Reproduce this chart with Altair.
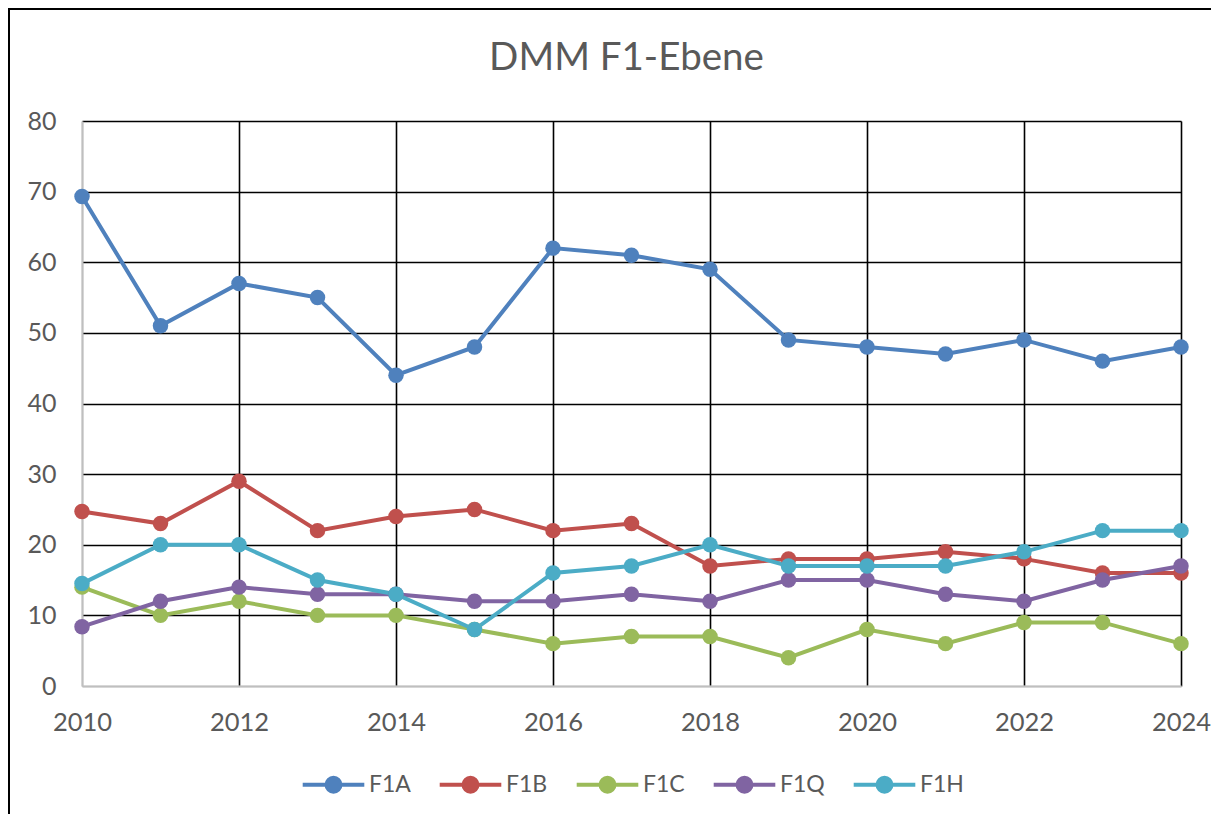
import altair as alt
import pandas as pd

years = list(range(2010, 2025))
series = ["F1A", "F1B", "F1C", "F1Q", "F1H"]
f1a = [69.3, 51, 57, 55, 44, 48, 62, 61, 59, 49, 48, 47, 49, 46, 48]
f1b = [24.7, 23, 29, 22, 24, 25, 22, 23, 17, 18, 18, 19, 18, 16, 16]
f1c = [14, 10, 12, 10, 10, 8, 6, 7, 7, 4, 8, 6, 9, 9, 6]
f1q = [8.4, 12, 14, 13, 13, 12, 12, 13, 12, 15, 15, 13, 12, 15, 17]
f1h = [14.5, 20, 20, 15, 13, 8, 16, 17, 20, 17, 17, 17, 19, 22, 22]
colors = ["#4f81bd", "#c0504d", "#9bbb59", "#8064a2", "#4bacc6"]
x_ticks = [2010, 2012, 2014, 2016, 2018, 2020, 2022, 2024]
y_ticks = [0, 10, 20, 30, 40, 50, 60, 70, 80]

rows = []
for name, vals in zip(series, [f1a, f1b, f1c, f1q, f1h]):
    for yr, v in zip(years, vals):
        rows.append({"Jahr": yr, "Wert": v, "Serie": name, "order": series.index(name)})
df = pd.DataFrame(rows)

FONT = "Lato"
GRAY = "#595959"
W, H = 1099, 565
PL, PT, PR, PB = 74, 113, 30, 128

sym = ("M-4.4,0L4.4,0"
       "M1,0A1,1,0,1,1,-1,0A1,1,0,1,1,1,0"
       "M0.4286,0A0.4286,0.4286,0,1,1,-0.4286,0A0.4286,0.4286,0,1,1,0.4286,0"
       "M0.1429,0A0.1429,0.1429,0,1,1,-0.1429,0A0.1429,0.1429,0,1,1,0.1429,0")

lines = alt.Chart(df).mark_line(
    strokeWidth=4,
    point=alt.OverlayMarkDef(filled=True, size=240, opacity=1),
).encode(
    x=alt.X("Jahr:Q",
            scale=alt.Scale(domain=[2010, 2024], nice=False, zero=False),
            axis=alt.Axis(values=x_ticks, format="d", title=None,
                          grid=True, ticks=False, labelFlush=False,
                          gridColor={"condition": {"test": "datum.value === 2010", "value": "#bfbfbf"}, "value": "black"},
                          gridWidth=1.6,
                          domainColor="#bfbfbf", domainWidth=2,
                          labelFont=FONT, labelFontSize=25.5, labelColor=GRAY,
                          labelPadding=24)),
    y=alt.Y("Wert:Q",
            scale=alt.Scale(domain=[0, 80], nice=False),
            axis=alt.Axis(values=y_ticks, title=None, grid=True, ticks=False,
                          gridColor={"condition": {"test": "datum.value === 0", "value": "#bfbfbf"}, "value": "black"},
                          gridWidth=1.6,
                          domainColor="#bfbfbf", domainWidth=2,
                          labelFont=FONT, labelFontSize=25, labelColor=GRAY,
                          labelPadding=26)),
    color=alt.Color("Serie:N",
                    scale=alt.Scale(domain=series, range=colors),
                    legend=alt.Legend(title=None, orient="none", direction="horizontal",
                                      legendX=240, legendY=652,
                                      symbolType=sym, symbolSize=196, symbolStrokeWidth=4,
                                      labelFont=FONT, labelFontSize=23, labelColor=GRAY,
                                      labelOffset=24, columnPadding=20, padding=0)),
    order=alt.Order("order:Q"),
    detail="Serie:N",
)

frame_left = alt.Chart(df).mark_rule(color="black", strokeWidth=2, clip=False).encode(
    x=alt.value(-73), y=alt.value(-112), y2=alt.value(H + PB))
frame_top = alt.Chart(df).mark_rule(color="black", strokeWidth=2, clip=False).encode(
    x=alt.value(-74), x2=alt.value(W + PR), y=alt.value(-112))

chart = alt.layer(frame_left, frame_top, lines).properties(
    width=W, height=H,
    autosize=alt.AutoSizeParams(type="none"),
    padding={"left": PL, "top": PT, "right": PR, "bottom": PB},
    title=alt.TitleParams("DMM F1-Ebene", font=FONT, fontSize=38.5, color=GRAY,
                          fontWeight="normal", anchor="middle", frame="group",
                          offset=0, dy=70, dx=-5),
).configure_view(stroke=None).configure(background="white")

chart.save("out.html", embed_options={"renderer": "svg", "actions": False})
